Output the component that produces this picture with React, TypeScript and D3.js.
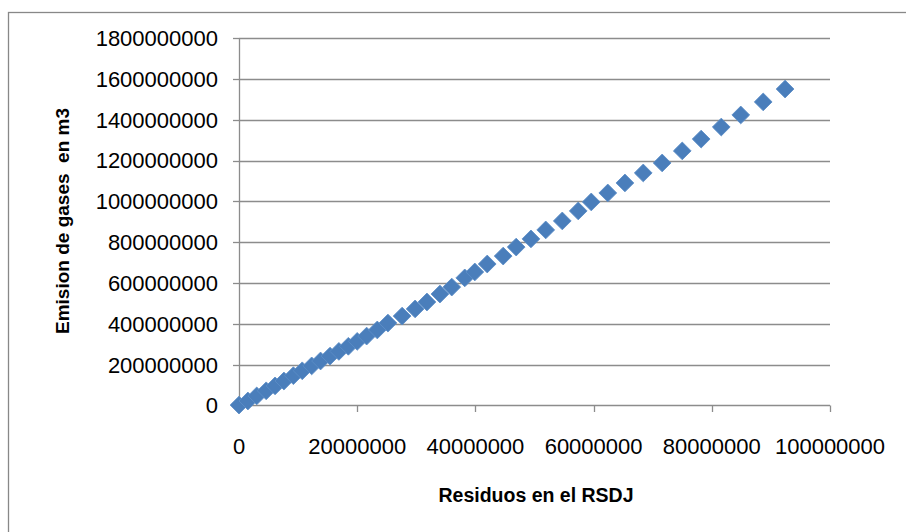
import React from "react";
import * as d3 from "d3";

// Residuos en el RSDJ (x) vs Emision de gases en m3 (y)
const residuos: number[] = [
  0, 1500000, 3000000, 4600000, 6100000, 7600000, 9200000, 10700000, 12300000,
  13800000, 15400000, 16900000, 18500000, 20000000, 21600000, 23400000, 25200000,
  27600000, 29800000, 31800000, 34000000, 36000000, 38200000, 39900000, 42000000,
  44700000, 46900000, 49400000, 51900000, 54700000, 57400000, 59600000, 62400000,
  65300000, 68400000, 71600000, 75000000, 78200000, 81600000, 84900000, 88700000,
  92400000,
];
const emision: number[] = [
  2000000, 22000000, 47000000, 72000000, 96000000, 120000000, 146000000, 170000000,
  194000000, 218000000, 242000000, 265000000, 290000000, 314000000, 340000000,
  370000000, 404000000, 438000000, 473000000, 507000000, 546000000, 580000000,
  625000000, 654000000, 693000000, 732000000, 776000000, 816000000, 860000000,
  904000000, 953000000, 997000000, 1041000000, 1090000000, 1139000000, 1188000000,
  1247000000, 1305000000, 1364000000, 1423000000, 1487000000, 1550000000,
];
const xTicks: number[] = [0, 20000000, 40000000, 60000000, 80000000, 100000000];
const yTicks: number[] = [0, 200000000, 400000000, 600000000, 800000000, 1000000000,
  1200000000, 1400000000, 1600000000, 1800000000];

export default function App() {
  const W = 906, H = 532;
  const x = d3.scaleLinear().domain([0, 100000000]).range([239, 830]);
  const y = d3.scaleLinear().domain([0, 1800000000]).range([405.5, 38]);
  const grid = "#8c8c8c";
  const font = "'Liberation Sans', Arial, sans-serif";
  const diamond = d3.symbol().type(d3.symbolSquare).size(158)() as string;
  const pts = residuos.map((v, i) => [v, emision[i]]);
  return (
    <svg width={W} height={H} style={{ position: "absolute", left: 0, top: 0 }}>
      <rect x={0} y={0} width={W} height={H} fill="#fff" />
      <rect x={8.5} y={12.5} width={1200} height={1200} fill="none" stroke="#888" strokeWidth={1.3} />
      {yTicks.map((t) => (
        <g key={"y" + t}>
          {t > 0 && (
            <line x1={x(0)} x2={x(100000000)} y1={Math.round(y(t)) + 0.5} y2={Math.round(y(t)) + 0.5} stroke={grid} strokeWidth={1.3} />
          )}
          <line x1={x(0) - 6} x2={x(0)} y1={Math.round(y(t)) + 0.5} y2={Math.round(y(t)) + 0.5} stroke={grid} strokeWidth={1.3} />
          <text x={218} y={y(t)} dy="0.36em" textAnchor="end" fontFamily={font} fontSize={22} fill="#000">
            {d3.format("d")(t)}
          </text>
        </g>
      ))}
      <line x1={x(0)} x2={x(100000000)} y1={405.5} y2={405.5} stroke={grid} strokeWidth={1.3} />
      <line x1={x(0) + 0.5} x2={x(0) + 0.5} y1={y(1800000000)} y2={405.5} stroke={grid} strokeWidth={1.3} />
      {xTicks.map((t) => (
        <g key={"x" + t}>
          <line x1={Math.round(x(t)) + 0.5} x2={Math.round(x(t)) + 0.5} y1={405.5} y2={412} stroke={grid} strokeWidth={1.3} />
          <text x={x(t)} y={446} dy="0.36em" textAnchor="middle" fontFamily={font} fontSize={22} fill="#000">
            {d3.format("d")(t)}
          </text>
        </g>
      ))}
      {pts.map(([a, b], i) => (
        <path key={i} d={diamond} transform={`translate(${x(a)},${y(b)}) rotate(45)`} fill="#4a7ebb" stroke="#5b8cc6" strokeWidth={0.8} strokeLinejoin="round" />
      ))}
      <text x={536} y={495} dy="0.36em" textAnchor="middle" fontFamily={font} fontWeight="bold" fontSize={19.5} fill="#000">
        Residuos en el RSDJ
      </text>
      <text transform={`translate(62,221) rotate(-90)`} dy="0.36em" textAnchor="middle" fontFamily={font} fontWeight="bold" fontSize={19} fill="#000" style={{ whiteSpace: "pre" }}>
        Emision de gases  en m3
      </text>
    </svg>
  );
}
